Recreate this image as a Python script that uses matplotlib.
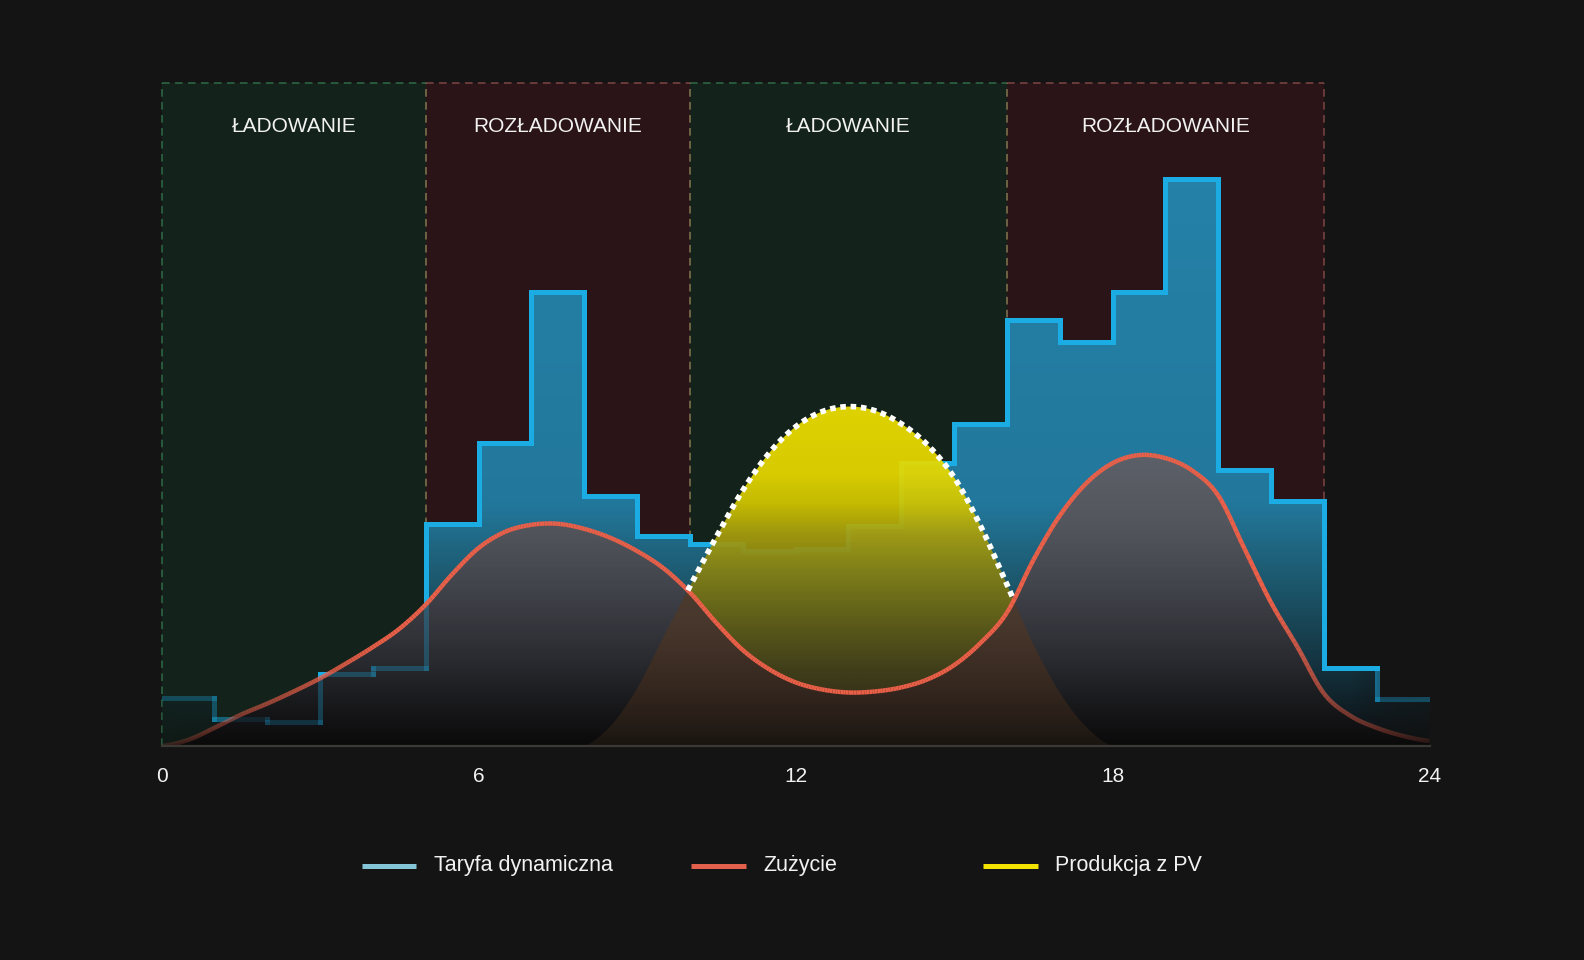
import numpy as np

import matplotlib
matplotlib.use('Agg')
import matplotlib.pyplot as plt
from matplotlib.collections import LineCollection
from matplotlib.colors import LinearSegmentedColormap, to_rgba
from matplotlib.lines import Line2D
from matplotlib.path import Path
from matplotlib.patches import PathPatch

plt.rcParams['font.family'] = ['Liberation Sans', 'DejaVu Sans']

# hourly dynamic tariff (arbitrary units, one value per hour 0..23)
hours = np.arange(25)
tariff = [48, 27, 24, 71, 77, 220, 300, 449, 247, 208, 200, 193,
          195, 218, 280, 319, 422, 400, 449, 561, 273, 243, 77, 47]

# half-hourly consumption and PV production
t = np.arange(0, 24.5, 0.5)
consumption = [0, 6, 18, 31, 42, 54, 67, 82, 98, 116, 140, 170, 196, 212, 219, 220,
               215, 206, 193, 176, 152, 122, 95, 76, 63, 56, 53, 54, 58, 66, 80, 102,
               132, 184, 228, 260, 280, 288, 285, 273, 248, 195, 142, 98, 52, 30, 18, 10, 5]
pv = [0, 0, 0, 0, 0, 0, 0, 0, 0, 0, 0, 0, 0, 0, 0, 0,
      0, 20, 57, 108, 158, 207, 253, 290, 316, 331, 336, 332, 319, 298, 266, 218,
      160, 101, 53, 19, 0, 0, 0, 0, 0, 0, 0, 0, 0, 0, 0, 0, 0]

period_edges = [0, 5, 10, 16, 22]
period_labels = ['ŁADOWANIE', 'ROZŁADOWANIE', 'ŁADOWANIE', 'ROZŁADOWANIE']
period_kind = ['charge', 'discharge', 'charge', 'discharge']
xticks = [0, 6, 12, 18, 24]
legend_labels = ['Taryfa dynamiczna', 'Zużycie', 'Produkcja z PV']

BG = '#141414'
YTOP = 656
TXT = '#f2f2f2'

tariff = np.array(tariff, dtype=float)


def smooth(x, y, n=10):
    # Catmull-Rom drawing curve through the read points
    y = np.asarray(y, float)
    p = np.concatenate([[y[0]], y, [y[-1]]])
    s = np.linspace(0, 1, n, endpoint=False)
    xs, ys = [], []
    for i in range(len(y) - 1):
        p0, p1, p2, p3 = p[i], p[i + 1], p[i + 2], p[i + 3]
        ys.append(0.5 * (2 * p1 + (p2 - p0) * s + (2 * p0 - 5 * p1 + 4 * p2 - p3) * s ** 2
                         + (3 * p1 - p0 - 3 * p2 + p3) * s ** 3))
        xs.append(x[i] + (x[i + 1] - x[i]) * s)
    xs.append([x[-1]])
    ys.append([y[-1]])
    return np.concatenate(xs), np.maximum(np.concatenate(ys), 0)


tt, cons_s = smooth(t, consumption)
_, pv_s = smooth(t, pv)

fig = plt.figure(figsize=(15.84, 9.6), dpi=100, facecolor=BG)
ax = fig.add_axes([0.102, 0.2229, 0.8005, 0.6903])
ax.set_facecolor(BG)
for s in ax.spines.values():
    s.set_visible(False)


def grad_rgba(stops, xalpha=None, ny=500, nx=800):
    cmap = LinearSegmentedColormap.from_list('g', [(p / YTOP, c) for p, c in stops])
    rgba = cmap(np.linspace(0, 1, ny))[:, None, :].repeat(nx, axis=1)
    if xalpha is not None:
        xx = np.linspace(0, 24, nx)
        rgba[..., 3] *= np.interp(xx, xalpha[0], xalpha[1])[None, :]
    return rgba


def gradient_fill(coll, rgba, zorder, alpha=1.0):
    path = Path.make_compound_path(*coll.get_paths())
    patch = PathPatch(path, transform=ax.transData, fc='none', ec='none')
    im = ax.imshow(rgba, extent=[0, 24, 0, YTOP], origin='lower', aspect='auto',
                   zorder=zorder, alpha=alpha, interpolation='bilinear')
    im.set_clip_path(patch)
    coll.remove()


def faded_segments(xs, ys, color, knots, scale=1.0):
    pts = np.column_stack([xs, ys])
    segs = np.stack([pts[:-1], pts[1:]], axis=1)
    mid = (pts[:-1, 0] + pts[1:, 0]) / 2
    a = np.interp(mid, knots[0], knots[1]) * scale
    base = np.array(to_rgba(color))
    cols = np.tile(base, (len(segs), 1))
    cols[:, 3] = a
    return segs, cols


# charge / discharge periods
fills = {'charge': '#13221a', 'discharge': '#2a1417'}
edges = {'charge': '#2e6b47', 'discharge': '#7d4644'}
dash = (0, (5, 3.5))
for i in range(len(period_labels)):
    x0, x1 = period_edges[i], period_edges[i + 1]
    k = period_kind[i]
    ax.axvspan(x0, x1, color=fills[k], lw=0, zorder=0)
    ax.plot([x0, x1], [YTOP, YTOP], color=edges[k], lw=1.1, ls=dash,
            clip_on=False, zorder=0.5)
    ax.text((x0 + x1) / 2, 613, period_labels[i], ha='center', va='center',
            color=TXT, fontsize=15, zorder=10)
for i, xv in enumerate(period_edges):
    if i == 0:
        c = edges['charge']
    elif i == len(period_edges) - 1:
        c = edges['discharge']
    else:
        c = '#857650'
    ax.plot([xv, xv], [0, YTOP], color=c, lw=1.1, ls=dash, clip_on=False, zorder=0.5)

# tariff fill
tar_ext = np.append(tariff, tariff[-1])
coll = ax.fill_between(hours, 0, tar_ext, step='post', fc='none', ec='none')
blue_stops = [(0, '#0a0c0e'), (30, '#0f1c22'), (95, '#163a48'), (150, '#1b5366'),
              (195, '#1f6580'), (240, '#22789c'), (YTOP, '#2684ac')]
gradient_fill(coll, grad_rgba(blue_stops, ([0, 1, 2.5, 4, 22.5, 23.2, 24],
                                           [0.35, 0.5, 0.8, 1, 1, 0.6, 0.4])), 1)

# tariff step line
sx, sy = [], []
for i in range(24):
    sx += [hours[i], hours[i + 1]]
    sy += [tariff[i], tariff[i]]
blue_knots = ([0, 1, 2, 3, 22.5, 23.1, 24], [0.2, 0.3, 0.5, 1, 1, 0.35, 0.2])
segs, cols = faded_segments(sx, sy, '#1bace4', blue_knots)
ax.add_collection(LineCollection(segs, colors=cols, linewidths=3.6,
                                 capstyle='projecting', zorder=2))

# consumption fill (gray)
coll = ax.fill_between(tt, 0, cons_s, fc='none', ec='none')
gray_stops = [(0, '#0a0a0b'), (18, '#111113'), (50, '#1c1d20'), (84, '#2a2b30'),
              (166, '#45474f'), (220, '#53565d'), (288, '#5c6068'), (YTOP, '#62666e')]
gradient_fill(coll, grad_rgba(gray_stops), 3)

# PV under consumption (brown)
coll = ax.fill_between(tt, 0, np.minimum(pv_s, cons_s), fc='none', ec='none')
brown_stops = [(0, '#1a1410'), (30, '#2a2019'), (70, '#3a2b22'), (120, '#48372c'),
               (170, '#4f3d31'), (YTOP, '#554234')]
gradient_fill(coll, grad_rgba(brown_stops), 3.5)

# faint tariff line showing through
segs, cols = faded_segments(sx, sy, '#1bace4', blue_knots, scale=0.28)
ax.add_collection(LineCollection(segs, colors=cols, linewidths=3.6,
                                 capstyle='projecting', zorder=4))

# PV surplus (yellow)
coll = ax.fill_between(tt, cons_s, pv_s, where=pv_s > cons_s, interpolate=True,
                       fc='none', ec='none')
yellow_stops = [(0, '#2e2a16'), (40, '#342e18'), (70, '#423e18'), (120, '#605c16'),
                (170, '#848014'), (210, '#a89f0e'), (240, '#d2c600'), (270, '#e6d800'),
                (336, '#eedf00'), (YTOP, '#f2e400')]
gradient_fill(coll, grad_rgba(yellow_stops), 5, alpha=0.94)

# consumption line
red_knots = ([0, 0.5, 1.7, 3.0, 4.2, 21.0, 21.8, 22.3, 22.9, 23.6, 24],
             [0.15, 0.25, 0.55, 0.8, 1, 1, 0.7, 0.5, 0.38, 0.22, 0.15])
segs, cols = faded_segments(tt, cons_s, '#ea5f48', red_knots)
ax.add_collection(LineCollection(segs, colors=cols, linewidths=3.2,
                                 capstyle='butt', zorder=6))

# dotted PV edge where production exceeds consumption
d = pv_s - cons_s
m = (d > 0).astype(int)
ch = np.where(np.diff(m) != 0)[0]
xc = [tt[i] - d[i] * (tt[i + 1] - tt[i]) / (d[i + 1] - d[i]) for i in ch]
yc = [np.interp(x, tt, pv_s) for x in xc]
inside = (tt > xc[0]) & (tt < xc[-1])
px = np.concatenate([[xc[0]], tt[inside], [xc[-1]]])
py = np.concatenate([[yc[0]], pv_s[inside], [yc[-1]]])
ax.plot(px, py, color='white', lw=4.0, ls=(0, (1, 0.85)), zorder=7,
        dash_capstyle='butt')

# baseline
ax.plot([0, 24], [0, 0], color='#3b3935', lw=1.6, clip_on=False, zorder=8)

ax.set_xlim(0, 24)
ax.set_ylim(0, YTOP)
ax.set_yticks([])
ax.set_xticks(xticks)
ax.set_xticklabels([str(v) for v in xticks])
ax.tick_params(axis='x', length=0, pad=15, labelsize=15, labelcolor=TXT)

# legend
leg_colors = ['#84c6d8', '#e2604c', '#f2e400']
leg_x = [361.6, 691.0, 983.0]
ly = 1 - 866 / 960
for lab, c, x0 in zip(legend_labels, leg_colors, leg_x):
    fig.add_artist(Line2D([x0 / 1584, (x0 + 54.5) / 1584], [ly, ly], color=c, lw=3.6,
                          solid_capstyle='butt', transform=fig.transFigure))
    fig.text((x0 + 72) / 1584, ly, lab, color=TXT, fontsize=15.5, va='center', ha='left')

fig.savefig('out.png', dpi=100, facecolor=BG)
